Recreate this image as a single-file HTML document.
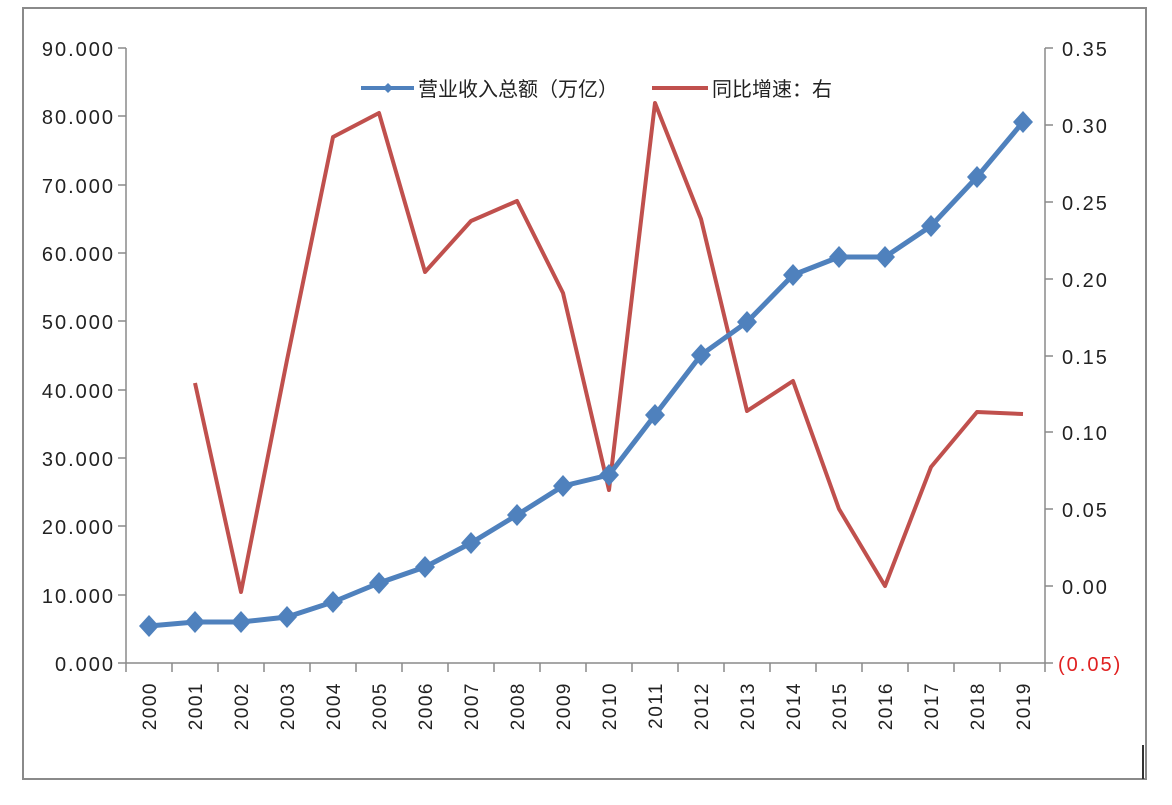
<!DOCTYPE html>
<html><head><meta charset="utf-8"><style>
body{margin:0;background:#fff;}
svg text{font-family:"Liberation Sans","Noto Sans CJK SC",sans-serif;fill:#222;}
</style></head><body>
<svg width="1172" height="800" viewBox="0 0 1172 800" xmlns="http://www.w3.org/2000/svg">
<rect x="23" y="8" width="1123" height="771" fill="#fff" stroke="#8a8a8a" stroke-width="2"/>
<g stroke="#8a8a8a" stroke-width="1.5" fill="none">
<line x1="126" y1="48" x2="126" y2="663"/>
<line x1="1045" y1="48" x2="1045" y2="663"/>
<line x1="118" y1="663" x2="1045" y2="663"/>
<path d="M118 48h8M118 116h8M118 185h8M118 253h8M118 321h8M118 390h8M118 458h8M118 526h8M118 595h8"/>
<path d="M1045 48h8M1045 125h8M1045 202h8M1045 279h8M1045 356h8M1045 432h8M1045 509h8M1045 586h8M1045 663h8"/>
<path d="M126 663v9M172 663v9M218 663v9M264 663v9M310 663v9M356 663v9M402 663v9M448 663v9M494 663v9M540 663v9M586 663v9M632 663v9M678 663v9M724 663v9M770 663v9M816 663v9M862 663v9M908 663v9M954 663v9M1000 663v9M1045 663v9"/>
</g>
<g font-size="20" text-anchor="end" letter-spacing="2">
<text x="115" y="56">90.000</text><text x="115" y="124">80.000</text><text x="115" y="193">70.000</text><text x="115" y="261">60.000</text><text x="115" y="329">50.000</text><text x="115" y="398">40.000</text><text x="115" y="466">30.000</text><text x="115" y="534">20.000</text><text x="115" y="603">10.000</text><text x="115" y="671">0.000</text>
</g>
<g font-size="20" letter-spacing="2">
<text x="1062" y="56">0.35</text><text x="1062" y="133">0.30</text><text x="1062" y="210">0.25</text><text x="1062" y="287">0.20</text><text x="1062" y="364">0.15</text><text x="1062" y="440">0.10</text><text x="1062" y="517">0.05</text><text x="1062" y="594">0.00</text><text x="1058" y="671" style="fill:#e02020">(0.05)</text>
</g>
<g font-size="19" text-anchor="end" letter-spacing="1.5">
<text transform="translate(156,682) rotate(-90)">2000</text><text transform="translate(202,682) rotate(-90)">2001</text><text transform="translate(248,682) rotate(-90)">2002</text><text transform="translate(294,682) rotate(-90)">2003</text><text transform="translate(340,682) rotate(-90)">2004</text><text transform="translate(386,682) rotate(-90)">2005</text><text transform="translate(432,682) rotate(-90)">2006</text><text transform="translate(478,682) rotate(-90)">2007</text><text transform="translate(524,682) rotate(-90)">2008</text><text transform="translate(570,682) rotate(-90)">2009</text><text transform="translate(616,682) rotate(-90)">2010</text><text transform="translate(662,682) rotate(-90)">2011</text><text transform="translate(708,682) rotate(-90)">2012</text><text transform="translate(754,682) rotate(-90)">2013</text><text transform="translate(800,682) rotate(-90)">2014</text><text transform="translate(846,682) rotate(-90)">2015</text><text transform="translate(892,682) rotate(-90)">2016</text><text transform="translate(938,682) rotate(-90)">2017</text><text transform="translate(984,682) rotate(-90)">2018</text><text transform="translate(1030,682) rotate(-90)">2019</text>
</g>
<polyline fill="none" stroke="#c0504d" stroke-width="4" stroke-linejoin="round" points="195,383 241,592 287,360 333,137 379,113 425,272 471,221 517,201 563,293 609,490 655,103 701,219 747,411 793,381 839,509 885,586 931,467 977,412 1023,414"/>
<polyline fill="none" stroke="#4f81bd" stroke-width="5" stroke-linejoin="round" points="149,626 195,622 241,622 287,617 333,602 379,583 425,567 471,543 517,515 563,486 609,475 655,415 701,355 747,322 793,275 839,257 885,257 931,226 977,177 1023,122"/>
<g fill="#4f81bd">
<path d="M149 615l10 11-10 11-10-11z"/><path d="M195 611l10 11-10 11-10-11z"/><path d="M241 611l10 11-10 11-10-11z"/><path d="M287 606l10 11-10 11-10-11z"/><path d="M333 591l10 11-10 11-10-11z"/><path d="M379 572l10 11-10 11-10-11z"/><path d="M425 556l10 11-10 11-10-11z"/><path d="M471 532l10 11-10 11-10-11z"/><path d="M517 504l10 11-10 11-10-11z"/><path d="M563 475l10 11-10 11-10-11z"/><path d="M609 464l10 11-10 11-10-11z"/><path d="M655 404l10 11-10 11-10-11z"/><path d="M701 344l10 11-10 11-10-11z"/><path d="M747 311l10 11-10 11-10-11z"/><path d="M793 264l10 11-10 11-10-11z"/><path d="M839 246l10 11-10 11-10-11z"/><path d="M885 246l10 11-10 11-10-11z"/><path d="M931 215l10 11-10 11-10-11z"/><path d="M977 166l10 11-10 11-10-11z"/><path d="M1023 111l10 11-10 11-10-11z"/>
</g>
<line x1="361" y1="88" x2="414" y2="88" stroke="#4f81bd" stroke-width="4"/>
<path d="M388 83l5 5-5 5-5-5z" fill="#4f81bd"/>
<text x="418" y="96" font-size="20">营业收入总额（万亿）</text>
<line x1="652" y1="88" x2="708" y2="88" stroke="#c0504d" stroke-width="4"/>
<text x="712" y="96" font-size="20">同比增速：右</text>
<line x1="1143" y1="745" x2="1143" y2="779" stroke="#333" stroke-width="2"/>
</svg>
</body></html>
